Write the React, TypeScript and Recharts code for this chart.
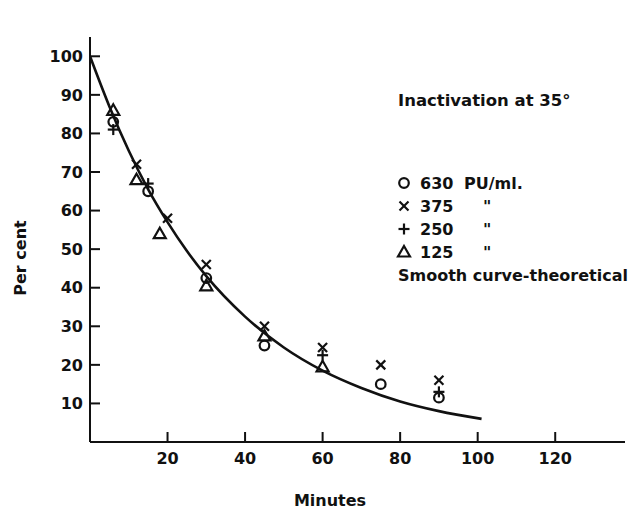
import { ComposedChart, Line, Scatter, XAxis, YAxis } from "recharts"

// theoretical curve
const curveMinutes = [0, 5, 10, 15, 20, 25, 30, 40, 50, 60, 70, 80, 90, 101]
const curvePercent = [100, 87, 75.5, 65.5, 57, 49.5, 43, 32.5, 24.5, 18.5, 14, 10.5, 8, 6]

// 630 PU/ml (circles)
const circleMinutes = [6, 15, 30, 45, 75, 90]
const circlePercent = [83, 65, 42.5, 25, 15, 11.5]

// 375 PU/ml (crosses)
const crossMinutes = [12, 20, 30, 45, 60, 75, 90]
const crossPercent = [72, 58, 46, 30, 24.5, 20, 16]

// 250 PU/ml (plus)
const plusMinutes = [6, 15, 60, 90]
const plusPercent = [81, 67, 22.5, 13]

// 125 PU/ml (triangles)
const triangleMinutes = [6, 12, 18, 30, 45, 60]
const trianglePercent = [86, 68, 54, 40.5, 27.5, 19.5]

const xTicks = [20, 40, 60, 80, 100, 120]
const yTicks = [10, 20, 30, 40, 50, 60, 70, 80, 90, 100]

const legendRows = [
  { kind: "circle", conc: "630", unit: "PU/ml." },
  { kind: "cross", conc: "375", unit: "\"" },
  { kind: "plus", conc: "250", unit: "\"" },
  { kind: "triangle", conc: "125", unit: "\"" },
]

const ink = "#111"
const font = "'DejaVu Sans', sans-serif"

const toPoints = (xs: number[], ys: number[]) => xs.map((x, i) => ({ x, y: ys[i] }))

function Marker({ kind, cx, cy }: { kind: string; cx: number; cy: number }) {
  if (kind === "circle") {
    return <circle cx={cx} cy={cy} r={4.8} fill="none" stroke={ink} strokeWidth={2.2} />
  }
  if (kind === "cross") {
    return (
      <g stroke={ink} strokeWidth={2.2}>
        <line x1={cx - 4.5} y1={cy - 4.5} x2={cx + 4.5} y2={cy + 4.5} />
        <line x1={cx - 4.5} y1={cy + 4.5} x2={cx + 4.5} y2={cy - 4.5} />
      </g>
    )
  }
  if (kind === "plus") {
    return (
      <g stroke={ink} strokeWidth={2.2}>
        <line x1={cx - 5.5} y1={cy} x2={cx + 5.5} y2={cy} />
        <line x1={cx} y1={cy - 5.5} x2={cx} y2={cy + 5.5} />
      </g>
    )
  }
  return (
    <polygon
      points={`${cx},${cy - 6} ${cx + 6},${cy + 4.5} ${cx - 6},${cy + 4.5}`}
      fill="none"
      stroke={ink}
      strokeWidth={2.2}
    />
  )
}

const shapeFor = (kind: string) => (props: any) => <Marker kind={kind} cx={props.cx} cy={props.cy} />

const tickStyle = { fill: ink, fontSize: 16, fontWeight: 700, fontFamily: font }

export default function App() {
  return (
    <div style={{ position: "absolute", left: 0, top: 0, width: 628, height: 510, background: "#fff" }}>
      <ComposedChart width={628} height={510} margin={{ top: 37, right: 3, bottom: 0, left: 0 }}>
        <XAxis
          type="number"
          dataKey="x"
          domain={[0, 138]}
          ticks={xTicks}
          allowDataOverflow
          height={68}
          stroke={ink}
          axisLine={{ stroke: ink, strokeWidth: 2 }}
          tickLine={{ stroke: ink, strokeWidth: 2 }}
          tickSize={-10}
          tickMargin={21}
          tick={tickStyle}
        />
        <YAxis
          type="number"
          dataKey="y"
          domain={[0, 105]}
          ticks={yTicks}
          allowDataOverflow
          width={90}
          stroke={ink}
          axisLine={{ stroke: ink, strokeWidth: 2 }}
          tickLine={{ stroke: ink, strokeWidth: 2 }}
          tickSize={-10}
          tickMargin={17}
          tick={tickStyle}
        />
        <Line
          data={toPoints(curveMinutes, curvePercent)}
          dataKey="y"
          type="monotone"
          stroke={ink}
          strokeWidth={2.6}
          dot={false}
          activeDot={false}
          isAnimationActive={false}
        />
        <Scatter data={toPoints(circleMinutes, circlePercent)} dataKey="y" shape={shapeFor("circle")} isAnimationActive={false} />
        <Scatter data={toPoints(crossMinutes, crossPercent)} dataKey="y" shape={shapeFor("cross")} isAnimationActive={false} />
        <Scatter data={toPoints(plusMinutes, plusPercent)} dataKey="y" shape={shapeFor("plus")} isAnimationActive={false} />
        <Scatter data={toPoints(triangleMinutes, trianglePercent)} dataKey="y" shape={shapeFor("triangle")} isAnimationActive={false} />
      </ComposedChart>

      <svg width={628} height={510} style={{ position: "absolute", left: 0, top: 0, pointerEvents: "none" }}>
        <g fill={ink} fontFamily={font} fontWeight={700} fontSize={16}>
          <text x={398} y={106} fontSize={16.5}>Inactivation at 35°</text>
          {legendRows.map((row, i) => {
            const cy = 183 + i * 23
            return (
              <g key={row.conc}>
                <Marker kind={row.kind} cx={404} cy={cy} />
                <text x={420} y={cy + 6}>{row.conc}</text>
                <text x={row.unit === "\"" ? 483 : 464} y={cy + 6}>{row.unit}</text>
              </g>
            )
          })}
          <text x={398} y={281}>Smooth curve-theoretical</text>
          <text x={20} y={258} textAnchor="middle" transform="rotate(-90 20 258)" dominantBaseline="central">
            Per cent
          </text>
          <text x={330} y={506} textAnchor="middle">Minutes</text>
        </g>
      </svg>
    </div>
  )
}
